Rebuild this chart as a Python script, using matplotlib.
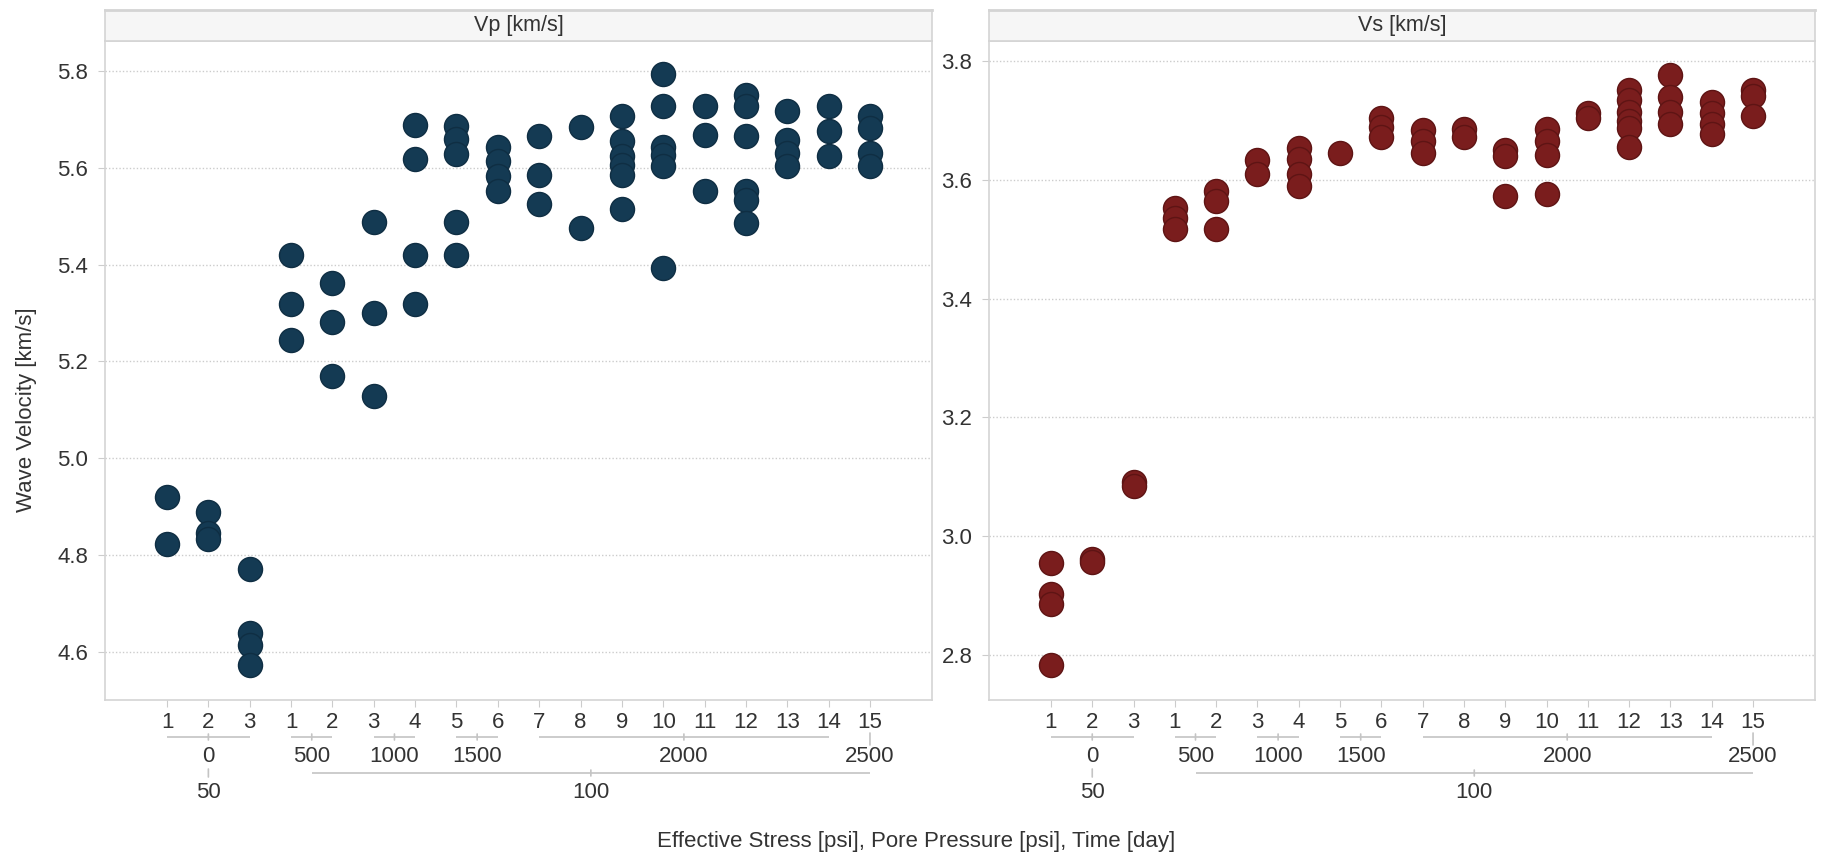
import matplotlib
matplotlib.use("Agg")
import matplotlib.pyplot as plt
from matplotlib.transforms import offset_copy

plt.rcParams["font.family"] = ["Liberation Sans", "DejaVu Sans"]

# ---- data: one entry per x category (pore pressure > effective stress > day)
pore_pressure = [50, 50, 50, 100, 100, 100, 100, 100, 100, 100, 100, 100, 100, 100, 100, 100, 100, 100]
effective_stress = [0, 0, 0, 500, 500, 1000, 1000, 1500, 1500,
                    2000, 2000, 2000, 2000, 2000, 2000, 2000, 2000, 2500]
time_day = [1, 2, 3, 1, 2, 3, 4, 5, 6, 7, 8, 9, 10, 11, 12, 13, 14, 15]

vp = [
    [4.919, 4.823],
    [4.888, 4.846, 4.832],
    [4.771, 4.638, 4.614, 4.572],
    [5.419, 5.319, 5.245],
    [5.362, 5.281, 5.169],
    [5.488, 5.300, 5.128],
    [5.688, 5.618, 5.419, 5.319],
    [5.686, 5.659, 5.628, 5.488, 5.419],
    [5.643, 5.613, 5.584, 5.553],
    [5.665, 5.586, 5.525],
    [5.685, 5.475],
    [5.708, 5.655, 5.625, 5.605, 5.585, 5.515],
    [5.793, 5.727, 5.643, 5.627, 5.604, 5.392],
    [5.727, 5.667, 5.553],
    [5.750, 5.727, 5.665, 5.553, 5.534, 5.486],
    [5.717, 5.658, 5.631, 5.604],
    [5.727, 5.676, 5.624],
    [5.708, 5.683, 5.631, 5.604],
]

vs = [
    [2.955, 2.902, 2.885, 2.783],
    [2.962, 2.956],
    [3.092, 3.085],
    [3.552, 3.536, 3.517],
    [3.582, 3.564, 3.517],
    [3.633, 3.610],
    [3.653, 3.635, 3.610, 3.590],
    [3.645],
    [3.705, 3.689, 3.673],
    [3.684, 3.666, 3.646],
    [3.686, 3.673],
    [3.650, 3.641, 3.573],
    [3.686, 3.666, 3.642, 3.576],
    [3.712, 3.705],
    [3.752, 3.735, 3.715, 3.700, 3.688, 3.655],
    [3.776, 3.740, 3.715, 3.695],
    [3.731, 3.712, 3.695, 3.678],
    [3.752, 3.742, 3.708],
]

vp_ticks = [4.6, 4.8, 5.0, 5.2, 5.4, 5.6, 5.8]
vs_ticks = [2.8, 3.0, 3.2, 3.4, 3.6, 3.8]

# ---- figure layout (pixel based)
W, H = 1823, 858
fig = plt.figure(figsize=(W / 100, H / 100), dpi=100)
fig.patch.set_facecolor("white")

TEXT = "#333333"
LINE = "#d4d4d4"
BRACKET = "#c4c4c4"
FS = 16


def fx(px):
    return px / W


def fy(py):
    return 1 - py / H


def runs(keys):
    """Consecutive runs of equal keys -> list of (key, first_index, last_index)."""
    out = []
    start = 0
    for i in range(1, len(keys) + 1):
        if i == len(keys) or keys[i] != keys[start]:
            out.append((keys[start], start, i - 1))
            start = i
    return out


def draw_panel(x0, x1, values, color, edge, ylim, yticks, title):
    top, bottom = 41, 700
    ax = fig.add_axes([fx(x0), fy(bottom), fx(x1 - x0), (bottom - top) / H])
    strip = fig.add_axes([fx(x0), fy(top), fx(x1 - x0), (top - 10) / H])

    # title strip
    strip.set_facecolor("#f6f6f6")
    strip.set_xticks([])
    strip.set_yticks([])
    for s in strip.spines.values():
        s.set_color(LINE)
        s.set_linewidth(1.2)
    strip.spines["top"].set_linewidth(2)
    strip.text(0.5, 0.5, title, ha="center", va="center", fontsize=15.5,
               color=TEXT, transform=strip.transAxes)

    # points
    xs, ys = [], []
    for i, vals in enumerate(values):
        for v in vals:
            xs.append(i)
            ys.append(v)
    ax.scatter(xs, ys, s=300, color=color, edgecolors=edge, linewidths=1.0, zorder=3)

    n = len(values)
    ax.set_xlim(-1.5, n - 1 + 1.5)
    ax.set_ylim(*ylim)
    ax.set_yticks(yticks)
    ax.set_yticklabels([f"{t:.1f}" for t in yticks])
    ax.yaxis.grid(True, linestyle=(0, (1, 1.5)), color="#cccccc", linewidth=1)
    ax.set_axisbelow(True)
    ax.tick_params(axis="y", length=5, color="#cccccc", pad=7,
                   labelsize=FS, labelcolor=TEXT)
    ax.set_xticks(range(n))
    ax.set_xticklabels([])
    ax.tick_params(axis="x", length=5, color="#cccccc")
    for s in ax.spines.values():
        s.set_color(LINE)
        s.set_linewidth(1.2)

    xt = ax.get_xaxis_transform()

    def below(dy):
        return offset_copy(xt, fig=fig, x=0, y=-dy, units="dots")

    def hline(a, b, dy):
        ax.plot([a, b], [0, 0], transform=below(dy), color=BRACKET,
                linewidth=1.2, clip_on=False, solid_capstyle="butt")

    def vtick(x, dy, half):
        ax.annotate("", xy=(x, 0), xycoords=below(dy - half),
                    xytext=(x, 0), textcoords=below(dy + half),
                    arrowprops=dict(arrowstyle="-", color=BRACKET, lw=1.2,
                                    shrinkA=0, shrinkB=0),
                    annotation_clip=False)

    # leaf labels (day)
    for i, d in enumerate(time_day):
        ax.text(i, 0, str(d), transform=below(22), ha="center", va="center",
                fontsize=FS, color=TEXT, clip_on=False)

    # effective stress level
    es_keys = list(zip(pore_pressure, effective_stress))
    es_centers = []
    for (pp, es), a, b in runs(es_keys):
        c = (a + b) / 2
        es_centers.append((pp, c))
        if b > a:
            hline(a, b, 37)
            vtick(c, 37, 3)
        else:
            vtick(c, 39, 6)
        ax.text(c, 0, str(es), transform=below(57), ha="center", va="center",
                fontsize=FS, color=TEXT, clip_on=False)

    # pore pressure level
    pp_keys = [p for p, _ in es_centers]
    for pp, a, b in runs(pp_keys):
        ca, cb = es_centers[a][1], es_centers[b][1]
        c = (ca + cb) / 2
        if b > a:
            hline(ca, cb, 73)
            vtick(c, 73, 3)
        else:
            vtick(c, 73, 4)
        ax.text(c, 0, str(pp), transform=below(92), ha="center", va="center",
                fontsize=FS, color=TEXT, clip_on=False)
    return ax


draw_panel(105, 932, vp, "#143a53", "#0f2e43", (4.50, 5.862), vp_ticks, "Vp [km/s]")
draw_panel(989, 1815, vs, "#7a1d1d", "#5e1414", (2.724, 3.834), vs_ticks, "Vs [km/s]")

fig.text(fx(27), fy(410), "Wave Velocity [km/s]", rotation=90, ha="center",
         va="center", fontsize=FS, color=TEXT)
fig.text(fx(916), fy(842), "Effective Stress [psi], Pore Pressure [psi], Time [day]",
         ha="center", va="center", fontsize=FS, color=TEXT)

fig.savefig("out.png", dpi=100, facecolor="white")
